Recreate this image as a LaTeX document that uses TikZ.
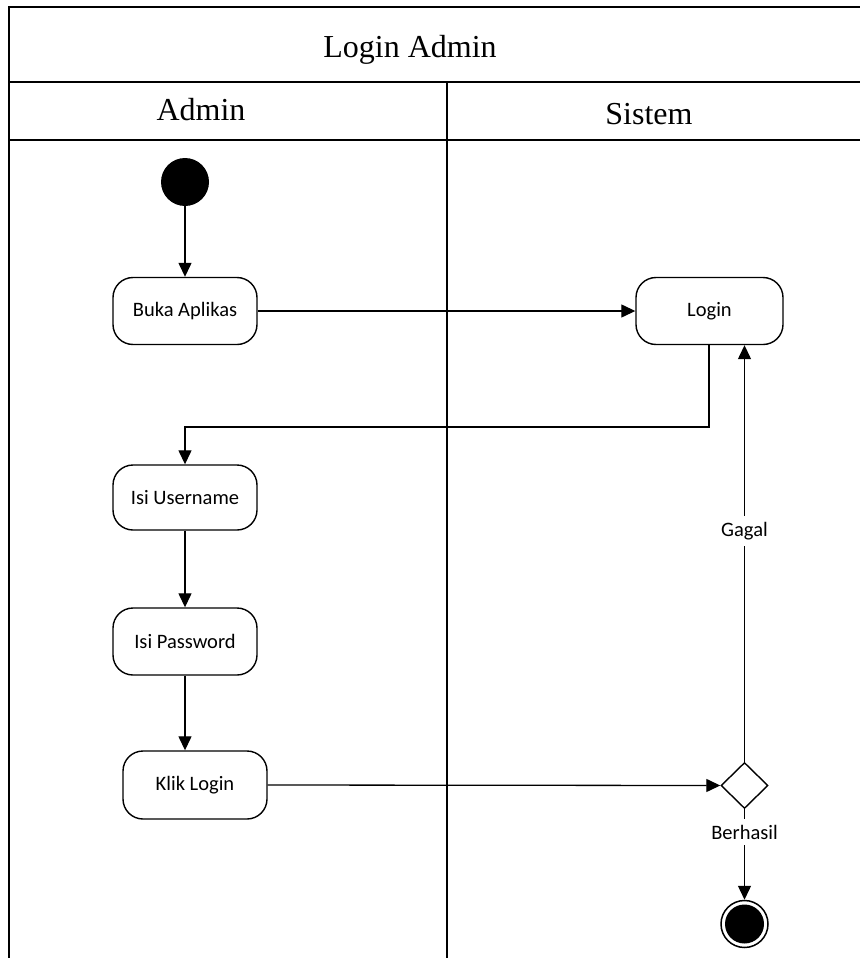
\documentclass[tikz,border=0pt]{standalone}
\usepackage{fontspec}
\setmainfont{Liberation Serif}
\newfontfamily\calfont{Carlito}
\usetikzlibrary{arrows.meta,shapes.geometric}
\tikzset{
  frame/.style={line width=1.8pt},
  act/.style={draw, rounded corners=20pt, line width=1.4pt, minimum width=144pt, minimum height=67pt, font=\calfont\fontsize{20.5}{24}\selectfont, inner sep=0pt},
  arr/.style={line width=1.3pt, -{Triangle[length=14pt,width=13pt]}},
  conn/.style={line width=1.3pt},
  lbl/.style={inner sep=0pt, font=\calfont\fontsize{20.5}{24}\selectfont},
  hdr/.style={font=\fontsize{32}{38}\selectfont}
}
\begin{document}
\begin{tikzpicture}[x=1pt,y=-1pt]
\useasboundingbox (0,0) rectangle (859,958);
% frame
\draw[frame] (9,958) -- (9,7) -- (880,7);
\draw[frame] (9,82) -- (880,82);
\draw[frame] (9,140) -- (880,140);
\draw[frame] (447,82) -- (447,958);
\node[hdr] (title) at (410,50) {Login Admin};
\node[hdr] (laneA) at (201,110) {Admin};
\node[hdr] (laneS) at (649,114) {Sistem};
% nodes
\node[circle, fill=black, minimum size=48pt, inner sep=0pt] (start) at (185,182) {};
\node[act] (buka) at (185,311) {Buka Aplikas};
\node[act, minimum width=147pt] (login) at (709.5,311) {Login};
\node[act, minimum height=65pt] (user) at (185,497.5) {Isi Username};
\node[act] (pass) at (185,641.5) {Isi Password};
\node[act, minimum height=68pt] (klik) at (195,785) {Klik Login};
\node[diamond, draw, line width=1.4pt, minimum width=47pt, minimum height=46pt, inner sep=0pt] (dec) at (744.5,785.5) {};
\node[circle, draw, line width=1.5pt, minimum size=47pt, inner sep=0pt] (endc) at (744.5,924) {};
\fill (endc.center) circle (19.5pt);
\node[lbl] (gagal) at (744.5,531) {Gagal};
\node[lbl] (berhasil) at (744.5,832) {Berhasil};
% connectors
\draw[arr] (start) -- (buka);
\draw[arr] (buka.east) -- (login.west);
\coordinate (bend) at (709,427);
\draw[arr] (login.south -| bend) -- (bend) -| (user.north);
\draw[arr] (user) -- (pass);
\draw[arr] (pass.south) -- (pass.south |- klik.north);
\draw[arr] (klik.east) -- (dec.west);
\draw[conn] (dec.north) -- ([yshift=-6pt]gagal.south);
\draw[arr] ([yshift=6pt]gagal.north) -- (dec.north |- login.south);
\draw[conn] (dec.south) -- ([yshift=6pt]berhasil.north);
\draw[arr] ([yshift=-6pt]berhasil.south) -- (endc.north);
\end{tikzpicture}
\end{document}
